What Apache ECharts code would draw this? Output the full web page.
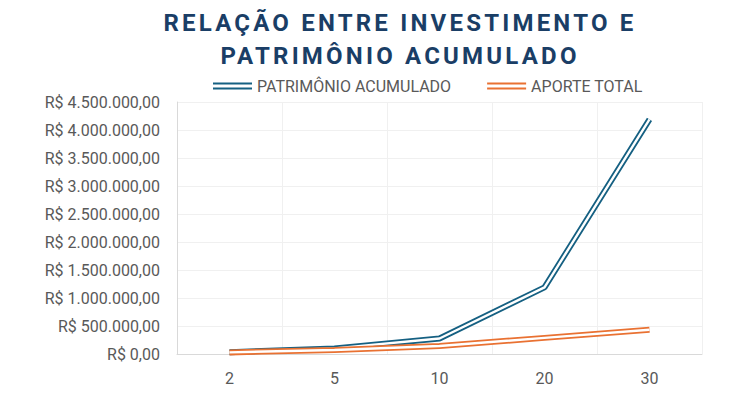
<!DOCTYPE html>
<html>
<head>
<meta charset="utf-8">
<script src="https://cdn.jsdelivr.net/npm/echarts@6/dist/echarts.min.js"></script>
<style>
  html, body { margin: 0; padding: 0; background: #fff; }
  #chart { width: 750px; height: 408px; }
  #chart svg text[style*="24px"] { letter-spacing: 3.2px; }
</style>
</head>
<body>
<div id="chart"></div>
<script>
const titleText = 'RELAÇÃO ENTRE INVESTIMENTO E\nPATRIMÔNIO ACUMULADO';
const years = ['2', '5', '10', '20', '30'];
const patrimonioName = 'PATRIMÔNIO ACUMULADO';
const aporteName = 'APORTE TOTAL';
const patrimonio = [32000, 100000, 276000, 1190000, 4190000];
const aporte = [28800, 72000, 144000, 288000, 432000];
const yMin = 0, yMax = 4500000, yStep = 500000;

const blue = '#156082';
const orange = '#E97132';
const grayText = '#595959';

function brl(v) {
  const s = Math.round(v).toString().replace(/\B(?=(\d{3})+(?!\d))/g, '.');
  return 'R$ ' + s + ',00';
}

const chart = echarts.init(document.getElementById('chart'), null, { renderer: 'svg' });
chart.setOption({
  animation: false,
  backgroundColor: '#fff',
  title: {
    text: titleText,
    left: 395,
    top: 1,
    textAlign: 'center',
    textStyle: {
      fontFamily: 'Roboto',
      fontWeight: 'bold',
      fontSize: 24,
      lineHeight: 33,
      color: '#1A3E66'
    }
  },
  legend: {
    data: [patrimonioName, aporteName],
    left: 208,
    top: 73,
    icon: 'path://M0,0H40V2H0Z M0,5H40V7H0Z',
    itemWidth: 39,
    itemHeight: 7,
    itemGap: 36,
    textStyle: { fontFamily: 'Roboto', fontSize: 16, color: grayText }
  },
  grid: { left: 177, right: 48, top: 102, bottom: 54, containLabel: false },
  xAxis: {
    type: 'category',
    data: years,
    boundaryGap: true,
    axisLine: { show: true, lineStyle: { color: '#D9D9D9', width: 1 } },
    axisTick: { show: false },
    axisLabel: { fontFamily: 'Roboto', fontSize: 16, color: grayText, margin: 16 },
    splitLine: { show: true, lineStyle: { color: '#F0F0F0', width: 1 } }
  },
  yAxis: {
    type: 'value',
    min: yMin,
    max: yMax,
    interval: yStep,
    axisLine: { show: true, lineStyle: { color: '#D9D9D9', width: 1 } },
    axisTick: { show: false },
    axisLabel: { fontFamily: 'Roboto', fontSize: 16, color: grayText, margin: 17, formatter: brl },
    splitLine: { show: true, lineStyle: { color: '#F0F0F0', width: 1 } }
  },
  series: [
    {
      name: patrimonioName, type: 'line', data: patrimonio, symbol: 'none',
      itemStyle: { color: blue },
      lineStyle: { color: blue, width: 6 }
    },
    {
      name: patrimonioName + ' (gap)', type: 'line', data: patrimonio, symbol: 'none', silent: true,
      itemStyle: { color: '#fff' },
      lineStyle: { color: '#fff', width: 2.4 }
    },
    {
      name: aporteName, type: 'line', data: aporte, symbol: 'none',
      itemStyle: { color: orange },
      lineStyle: { color: orange, width: 6 }
    },
    {
      name: aporteName + ' (gap)', type: 'line', data: aporte, symbol: 'none', silent: true,
      itemStyle: { color: '#fff' },
      lineStyle: { color: '#fff', width: 2.4 }
    }
  ]
});
</script>
</body>
</html>
